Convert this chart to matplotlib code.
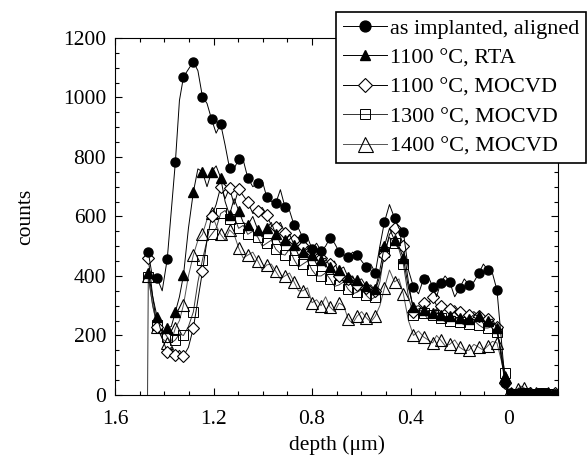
import numpy as np
import matplotlib
matplotlib.use("Agg")
import matplotlib.pyplot as plt
from matplotlib.ticker import MultipleLocator

plt.rcParams['font.family'] = ['Liberation Serif', 'DejaVu Serif']

# depth positions of the marked channels (um)
depth = [1.465, 1.429, 1.388, 1.355, 1.322, 1.282, 1.245, 1.208, 1.171, 1.135,
         1.098, 1.061, 1.02, 0.984, 0.947, 0.91, 0.873, 0.837, 0.8, 0.763,
         0.727, 0.69, 0.653, 0.617, 0.58, 0.543, 0.506, 0.465, 0.429, 0.388,
         0.347, 0.31, 0.278, 0.241, 0.2, 0.163, 0.122, 0.086, 0.049, 0.016,
         -0.01, -0.035, -0.06, -0.085, -0.11, -0.135, -0.16, -0.185]

# counts at the marked channels, and counts of the channel between two marks
aligned = [480, 393, 457, 783, 1069, 1120, 1002, 927, 911, 762,
           793, 730, 713, 665, 645, 632, 571, 528, 491, 484,
           528, 481, 464, 471, 430, 410, 581, 595, 548, 363,
           390, 363, 376, 380, 360, 370, 410, 420, 353, 40,
           5, 3, 5, 4, 3, 5, 4, 3]
aligned_mid = [390, 350, 620, 990, 1095, 1090, 980, 880, 840, 760,
               790, 700, 720, 650, 690, 620, 560, 530, 510, 500,
               510, 470, 480, 450, 440, 500, 640, 560, 420, 340,
               400, 330, 400, 330, 390, 380, 440, 410, 200, 10,
               4, 3, 5, 4, 3, 4, 5]

rta_1100 = [410, 262, 225, 279, 403, 682, 750, 750, 730, 605,
            620, 571, 555, 560, 540, 520, 505, 480, 470, 455,
            430, 420, 395, 385, 365, 355, 500, 520, 460, 295,
            285, 275, 270, 265, 260, 255, 265, 250, 225, 60,
            5, 4, 3, 5, 4, 3, 5, 4]
rta_1100_mid = [330, 200, 230, 330, 560, 760, 700, 770, 650, 660,
                580, 600, 530, 580, 510, 540, 470, 500, 440, 460,
                400, 430, 370, 390, 340, 420, 560, 500, 360, 300,
                265, 290, 255, 280, 245, 270, 240, 255, 140, 15,
                4, 3, 5, 4, 3, 5, 4]

mocvd_1100 = [460, 228, 145, 134, 131, 225, 415, 600, 699, 696,
              692, 649, 620, 605, 565, 545, 520, 500, 480, 460,
              440, 400, 390, 370, 360, 350, 470, 560, 500, 280,
              310, 330, 300, 290, 280, 270, 265, 255, 230, 40,
              3, 4, 3, 5, 3, 4, 3, 5]
mocvd_1100_mid = [330, 190, 160, 150, 160, 320, 520, 640, 660, 640,
                  670, 610, 630, 570, 580, 510, 530, 470, 490, 430,
                  450, 380, 400, 350, 370, 400, 540, 550, 380, 280,
                  305, 300, 285, 300, 265, 280, 250, 245, 130, 10,
                  4, 3, 5, 3, 4, 3, 4]

# the 1300 C spectrum rises from zero right at its first channel
edge_1300 = 1.468
mocvd_1300 = [397, 235, 195, 185, 200, 279, 454, 540, 610, 590,
              560, 540, 530, 510, 490, 470, 455, 440, 420, 400,
              390, 370, 355, 345, 335, 330, 480, 510, 440, 270,
              275, 270, 260, 250, 245, 240, 235, 225, 210, 75,
              4, 3, 5, 4, 3, 5, 4, 3]
mocvd_1300_mid = [300, 220, 175, 205, 230, 380, 520, 560, 620, 600,
                  570, 550, 500, 520, 475, 490, 430, 450, 400, 410,
                  365, 380, 340, 355, 320, 380, 530, 490, 330, 290,
                  255, 280, 245, 265, 235, 250, 225, 230, 150, 15,
                  4, 3, 5, 4, 3, 5, 4]

mocvd_1400 = [400, 229, 175, 225, 303, 470, 540, 610, 540, 555,
              494, 470, 450, 437, 415, 400, 380, 350, 310, 300,
              296, 309, 255, 265, 260, 265, 360, 380, 340, 200,
              195, 175, 185, 170, 160, 150, 160, 165, 175, 60,
              5, 20, 25, 8, 5, 4, 6, 4]
mocvd_1400_mid = [300, 190, 180, 250, 400, 520, 590, 570, 520, 540,
                  460, 480, 420, 440, 390, 410, 350, 360, 320, 330,
                  280, 300, 240, 280, 245, 300, 420, 390, 250, 215,
                  185, 200, 165, 185, 150, 170, 150, 180, 120, 15,
                  12, 30, 15, 6, 4, 5, 5]

labels = ["as implanted, aligned", "1100 °C, RTA", "1100 °C, MOCVD",
          "1300 °C, MOCVD", "1400 °C, MOCVD"]


def full_trace(xs, ys, mids):
    # put the in-between channel after every marked channel
    xs = np.asarray(xs, float)
    xm = (xs[:-1] + xs[1:]) / 2.0
    x = np.empty(2 * len(xs) - 1)
    y = np.empty(2 * len(xs) - 1)
    x[0::2] = xs
    x[1::2] = xm
    y[0::2] = ys
    y[1::2] = mids
    return x, y


fig = plt.figure(figsize=(5.87, 4.63), dpi=100)
ax = fig.add_axes([0.196, 0.147, 0.755, 0.771])

x, y = full_trace(depth, aligned, aligned_mid)
ax.plot(x, y, '-', color='black', lw=0.7, marker='o', ms=6.5, markevery=2,
        mfc='black', mec='black', label=labels[0], zorder=5)

x, y = full_trace(depth, rta_1100, rta_1100_mid)
ax.plot(x, y, '-', color='black', lw=0.7, marker='^', ms=6.5, markevery=2,
        mfc='black', mec='black', label=labels[1], zorder=4)

x, y = full_trace(depth, mocvd_1100, mocvd_1100_mid)
ax.plot(x, y, '-', color='black', lw=0.7, marker='D', ms=6, markevery=2,
        mfc='white', mec='black', mew=0.8, label=labels[2], zorder=3)

x, y = full_trace(depth, mocvd_1300, mocvd_1300_mid)
x = np.concatenate([[edge_1300], x])
y = np.concatenate([[0], y])
ax.plot(x, y, '-', color='#333333', lw=0.7, marker='s', ms=6.5,
        markevery=(1, 2), mfc='none', mec='black', mew=0.7,
        label=labels[3], zorder=2)

x, y = full_trace(depth, mocvd_1400, mocvd_1400_mid)
ax.plot(x, y, '-', color='#555555', lw=0.7, marker='^', ms=9, markevery=2,
        mfc='none', mec='black', mew=0.8, label=labels[4], zorder=1)

ax.set_xlim(1.6, -0.2)
ax.set_ylim(0, 1200)
ax.xaxis.set_minor_locator(MultipleLocator(0.1))
ax.yaxis.set_major_locator(MultipleLocator(200))
ax.yaxis.set_minor_locator(MultipleLocator(50))
ax.set_xticks([1.6, 1.2, 0.8, 0.4, 0.0])
ax.set_xticklabels(["1.6", "1.2", "0.8", "0.4", "0"])
ax.tick_params(which='both', direction='in', top=True, right=True, labelsize=15.5)
ax.tick_params(axis='x', which='major', pad=11)
ax.tick_params(axis='y', which='major', pad=6.5)
ax.tick_params(which='major', length=5, width=0.8)
ax.tick_params(which='minor', length=3, width=0.8)
for s in ax.spines.values():
    s.set_linewidth(0.8)

ax.set_xlabel("depth (μm)", fontsize=15.5, labelpad=4)
ax.set_ylabel("counts", fontsize=15.5, labelpad=20)

leg = ax.legend(loc='upper right', bbox_to_anchor=(0.999, 0.975),
                bbox_transform=fig.transFigure, fontsize=16, frameon=True,
                fancybox=False, edgecolor='black', framealpha=1,
                handlelength=2.0, handletextpad=0.15, labelspacing=0.4,
                borderpad=0.3, borderaxespad=0, markerscale=1.2)
leg.get_frame().set_linewidth(1.2)
leg.set_zorder(10)

fig.savefig("out.png", dpi=100)
